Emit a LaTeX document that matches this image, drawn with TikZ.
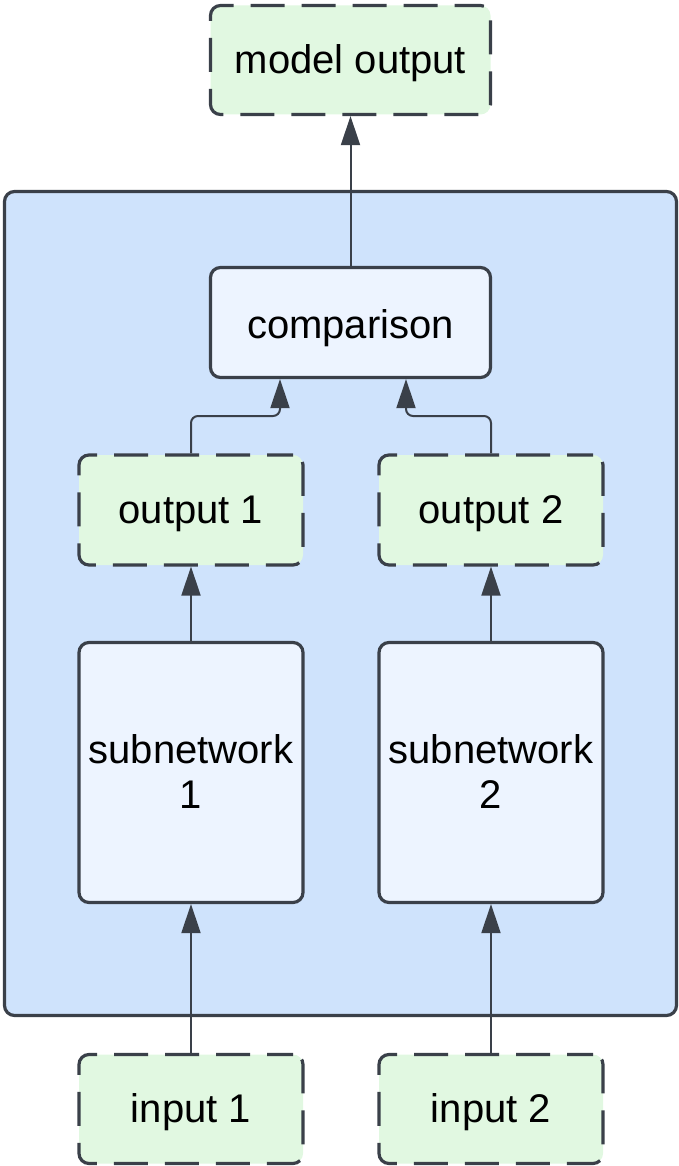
\documentclass[tikz,border=0pt]{standalone}
\usepackage{fontspec}
\setmainfont{Liberation Sans}
\usetikzlibrary{arrows.meta}
\definecolor{edgecol}{HTML}{3A4049}
\definecolor{greenfill}{HTML}{E1F8E1}
\definecolor{bluefill}{HTML}{CFE3FC}
\definecolor{lightfill}{HTML}{EDF4FF}
\tikzset{
  boxbase/.style={draw=edgecol, line width=3.2pt, rounded corners=10pt, inner sep=0pt},
  ionode/.style={boxbase, fill=greenfill, dash pattern=on 34pt off 17pt, dash phase=8pt},
  procnode/.style={boxbase, fill=lightfill},
  groupbox/.style={boxbase, fill=bluefill},
  lbl/.style={anchor=base, inner sep=0pt, font=\fontsize{40}{45}\selectfont, align=center},
  conn/.style={draw=edgecol, line width=2pt, -{Triangle[length=29pt,width=19pt]}},
}
\begin{document}
\begin{tikzpicture}[x=1pt,y=-1pt]
\useasboundingbox (0,0) rectangle (679,1166);
% container
\node[groupbox, minimum width=672pt, minimum height=824pt] (grp) at (340.5,603.5) {};
% boxes
\node[ionode, minimum width=280pt, minimum height=109pt] (mo) at (350.5,60) {};
\node[procnode, minimum width=280pt, minimum height=110pt] (comp) at (350.5,322.5) {};
\node[ionode, minimum width=224pt, minimum height=110pt] (o1) at (191,510) {};
\node[ionode, minimum width=224pt, minimum height=110pt] (o2) at (491,510) {};
\node[procnode, minimum width=224pt, minimum height=260pt] (s1) at (191,772.5) {};
\node[procnode, minimum width=224pt, minimum height=260pt] (s2) at (491,772.5) {};
\node[ionode, minimum width=224pt, minimum height=109pt] (in1) at (191,1109) {};
\node[ionode, minimum width=224pt, minimum height=109pt] (in2) at (491,1109) {};
% labels
\node[lbl] (mot) at (350.5,74) {model output};
\node[lbl] (compt) at (350.5,338) {comparison};
\node[lbl] (o1t) at (191,523.5) {output 1};
\node[lbl] (o2t) at (491,523.5) {output 2};
\node[lbl] (s1t) at (191,808) {subnetwork\\1};
\node[lbl] (s2t) at (491,808) {subnetwork\\2};
\node[lbl] (in1t) at (191,1122.5) {input 1};
\node[lbl] (in2t) at (491,1122.5) {input 2};
% connectors
\coordinate (k1) at (280,416);
\coordinate (k2) at (406,416);
\draw[conn] (comp.north) -- (mo.south);
\draw[conn, rounded corners=7pt] (o1.north) |- (k1) -- (k1 |- comp.south);
\draw[conn, rounded corners=7pt] (o2.north) |- (k2) -- (k2 |- comp.south);
\draw[conn] (s1.north) -- (o1.south);
\draw[conn] (s2.north) -- (o2.south);
\draw[conn] (in1.north) -- (s1.south);
\draw[conn] (in2.north) -- (s2.south);
\end{tikzpicture}
\end{document}
